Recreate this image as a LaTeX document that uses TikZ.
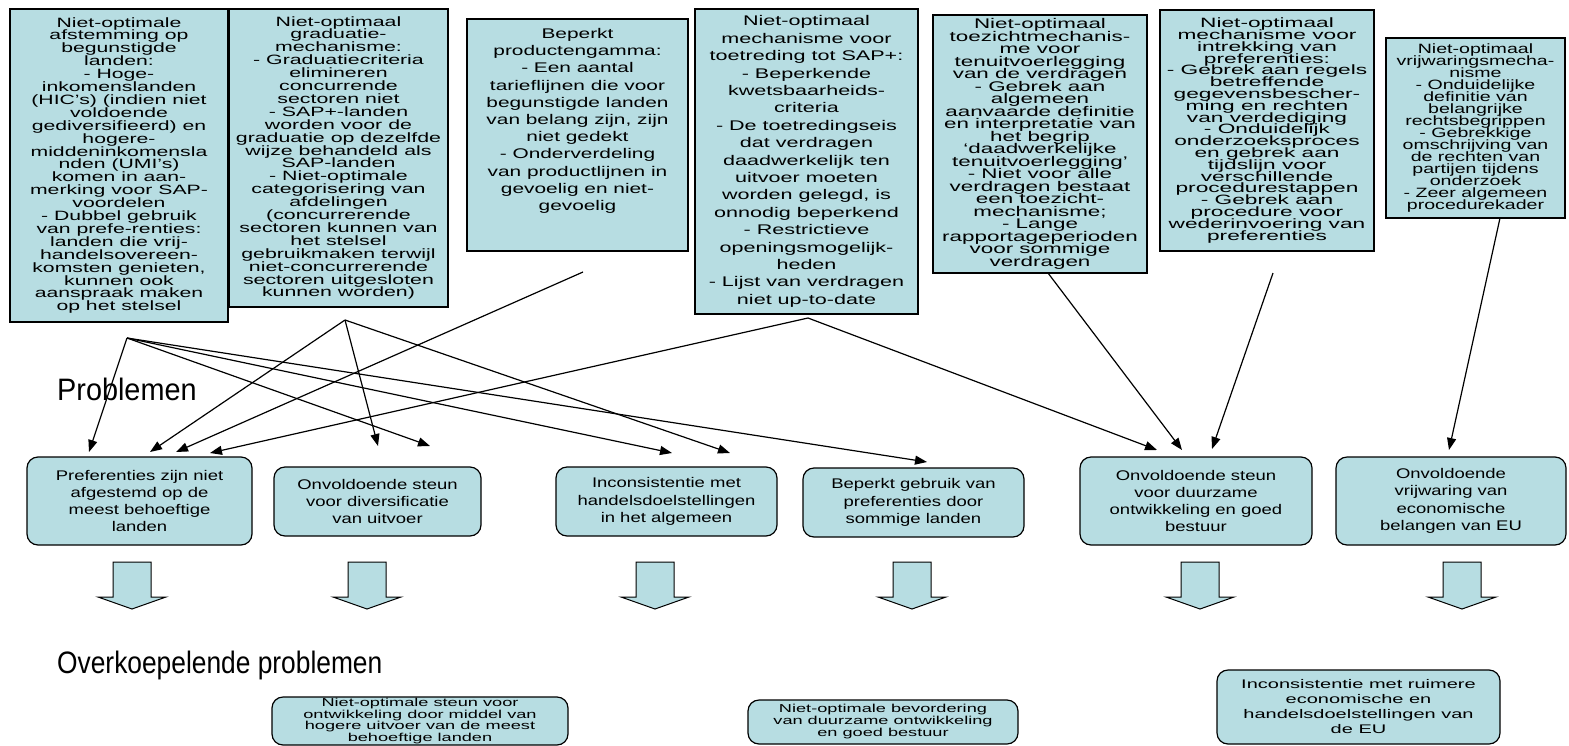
\documentclass[tikz,border=0pt]{standalone}
\usepackage{fontspec}
\setmainfont{Liberation Sans}
\usetikzlibrary{arrows.meta}
\definecolor{boxBlue}{RGB}{183,221,226}

\tikzset{
  problem/.style={draw=black, line width=1.2pt, fill=boxBlue, align=center, inner sep=0pt},
  effect/.style={problem, rounded corners=11pt},
  spacing/.style 2 args={font={\fontsize{#1}{#2}\selectfont\lineskiplimit=-30pt}},
  stretch/.style 2 args={xscale=#1, minimum width={#2/#1}},
  link/.style={line width=1.2pt, -{Triangle[length=12pt,width=9pt]}},
  blockarrow/.style={draw=black, line width=1pt, fill=boxBlue},
  heading/.style={anchor=base west, inner sep=0pt, font=\fontsize{31}{33}\selectfont}
}

\begin{document}
\begin{tikzpicture}[x=1pt,y=-1pt]
\useasboundingbox (0,0) rectangle (1569,745);

% headings
\node[heading, xscale=0.93] (lblProb) at (57,400) {Problemen};
\node[heading, xscale=0.85] (lblOver) at (57,673) {Overkoepelende problemen};

% oorzaken (top row)
\node[problem, spacing={13.5}{12.9}, stretch={1.57}{218}, minimum height=313] (p1) at (119,165.5)
 {Niet-optimale\\afstemming op\\begunstigde\\landen:\\- Hoge-\\inkomenslanden\\(HIC's) (indien niet\\voldoende\\gediversifieerd) en\\hogere-\\middeninkomensla\\nden (UMI's)\\komen in aan-\\merking voor SAP-\\voordelen\\- Dubbel gebruik\\van prefe-renties:\\landen die vrij-\\handelsovereen-\\komsten genieten,\\kunnen ook\\aanspraak maken\\op het stelsel};
\node[problem, spacing={13.5}{12.9}, stretch={1.58}{219}, minimum height=298] (p2) at (338.5,158)
 {Niet-optimaal\\graduatie-\\mechanisme:\\- Graduatiecriteria\\elimineren\\concurrende\\sectoren niet\\- SAP+-landen\\worden voor de\\graduatie op dezelfde\\wijze behandeld als\\SAP-landen\\- Niet-optimale\\categorisering van\\afdelingen\\(concurrerende\\sectoren kunnen van\\het stelsel\\gebruikmaken terwijl\\niet-concurrerende\\sectoren uitgesloten\\kunnen worden)};
\node[problem, spacing={14}{17.2}, stretch={1.49}{221}, minimum height=232] (p3) at (577.5,135)
 {Beperkt\\productengamma:\\- Een aantal\\tarieflijnen die voor\\begunstigde landen\\van belang zijn, zijn\\niet gedekt\\- Onderverdeling\\van productlijnen in\\gevoelig en niet-\\gevoelig\\[14pt]\mbox{}};
\node[problem, spacing={14}{17.4}, stretch={1.54}{223}, minimum height=305] (p4) at (806.5,161.5)
 {Niet-optimaal\\mechanisme voor\\toetreding tot SAP+:\\- Beperkende\\kwetsbaarheids-\\criteria\\- De toetredingseis\\dat verdragen\\daadwerkelijk ten\\uitvoer moeten\\worden gelegd, is\\onnodig beperkend\\- Restrictieve\\openingsmogelijk-\\heden\\- Lijst van verdragen\\niet up-to-date};
\node[problem, spacing={14}{12.5}, stretch={1.6}{214}, minimum height=258] (p5) at (1040,144)
 {Niet-optimaal\\toezichtmechanis-\\me voor\\tenuitvoerlegging\\van de verdragen\\- Gebrek aan\\algemeen\\aanvaarde definitie\\en interpretatie van\\het begrip\\`daadwerkelijke\\tenuitvoerlegging'\\- Niet voor alle\\verdragen bestaat\\een toezicht-\\mechanisme;\\- Lange\\rapportageperioden\\voor sommige\\verdragen};
\node[problem, spacing={13.5}{11.8}, stretch={1.68}{214}, minimum height=241] (p6) at (1267,130.5)
 {Niet-optimaal\\mechanisme voor\\intrekking van\\preferenties:\\- Gebrek aan regels\\betreffende\\gegevensbescher-\\ming en rechten\\van verdediging\\- Onduidelijk\\onderzoeksproces\\en gebrek aan\\tijdslijn voor\\verschillende\\procedurestappen\\- Gebrek aan\\procedure voor\\wederinvoering van\\preferenties};
\node[problem, spacing={13.5}{12}, stretch={1.45}{179}, minimum height=180] (p7) at (1475.5,128)
 {Niet-optimaal\\vrijwaringsmecha-\\nisme\\- Onduidelijke\\definitie van\\belangrijke\\rechtsbegrippen\\- Gebrekkige\\omschrijving van\\de rechten van\\partijen tijdens\\onderzoek\\- Zeer algemeen\\procedurekader};

% problemen (middle row)
\node[effect, spacing={14}{17.3}, stretch={1.32}{225}, minimum height=88] (m1) at (139.5,501)
 {Preferenties zijn niet\\afgestemd op de\\meest behoeftige\\landen};
\node[effect, spacing={14}{17.3}, stretch={1.32}{207}, minimum height=69] (m2) at (377.5,501.5)
 {Onvoldoende steun\\voor diversificatie\\van uitvoer};
\node[effect, spacing={14}{17.3}, stretch={1.32}{221}, minimum height=69] (m3) at (666.5,501.5)
 {Inconsistentie met\\handelsdoelstellingen\\in het algemeen};
\node[effect, spacing={14}{17.3}, stretch={1.32}{221}, minimum height=69] (m4) at (913.5,502.5)
 {Beperkt gebruik van\\preferenties door\\sommige landen};
\node[effect, spacing={14}{17.3}, stretch={1.32}{232}, minimum height=88] (m5) at (1196,501)
 {Onvoldoende steun\\voor duurzame\\ontwikkeling en goed\\bestuur};
\node[effect, spacing={14}{17.3}, stretch={1.32}{230}, minimum height=88] (m6) at (1451,501)
 {Onvoldoende\\vrijwaring van\\economische\\belangen van EU};

% overkoepelende problemen (bottom row)
\node[effect, spacing={11.5}{11.6}, stretch={1.58}{296}, minimum height=48] (b1) at (420,721)
 {Niet-optimale steun voor\\ontwikkeling door middel van\\hogere uitvoer van de meest\\behoeftige landen};
\node[effect, spacing={11.5}{12}, stretch={1.58}{270}, minimum height=44] (b2) at (883,722)
 {Niet-optimale bevordering\\van duurzame ontwikkeling\\en goed bestuur};
\node[effect, spacing={12.5}{15}, stretch={1.6}{283}, minimum height=74] (b3) at (1358.5,707)
 {Inconsistentie met ruimere\\economische en\\handelsdoelstellingen van\\de EU};

% block arrows
\foreach \ax in {132,367,655,912,1200,1462}
  \draw[blockarrow] ({\ax-19},562) -- ({\ax+19},562) -- ({\ax+19},597) -- ({\ax+34},597)
    -- (\ax,609) -- ({\ax-34},597) -- ({\ax-19},597) -- cycle;

% start points of the connectors
\coordinate (s1) at (127,338);
\coordinate (s2) at (345,320);
\coordinate (s3) at (583,272);
\coordinate (s4) at (808,318);
\coordinate (s5) at (1048,273);
\coordinate (s6) at (1273,273);
\coordinate (s7) at (1500,218);

% arrow ends on the problems
\coordinate (m1a) at (89,452);
\coordinate (m1b) at (150,452);
\coordinate (m1c) at (176,452);
\coordinate (m1d) at (210,453);
\coordinate (m2a) at (378,446);
\coordinate (m2b) at (430,446);
\coordinate (m3a) at (672,453);
\coordinate (m3b) at (730,453);
\coordinate (m4a) at (927,462);
\coordinate (m5a) at (1157,450);
\coordinate (m5b) at (1182,450);
\coordinate (m5c) at (1212,449);
\coordinate (m6a) at (1449,450);

\draw[link] (s1) -- (m1a);
\draw[link] (s1) -- (m2b);
\draw[link] (s1) -- (m3a);
\draw[link] (s1) -- (m4a);
\draw[link] (s2) -- (m1b);
\draw[link] (s2) -- (m2a);
\draw[link] (s2) -- (m3b);
\draw[link] (s3) -- (m1c);
\draw[link] (s4) -- (m1d);
\draw[link] (s4) -- (m5a);
\draw[link] (s5) -- (m5b);
\draw[link] (s6) -- (m5c);
\draw[link] (s7) -- (m6a);

\end{tikzpicture}
\end{document}
